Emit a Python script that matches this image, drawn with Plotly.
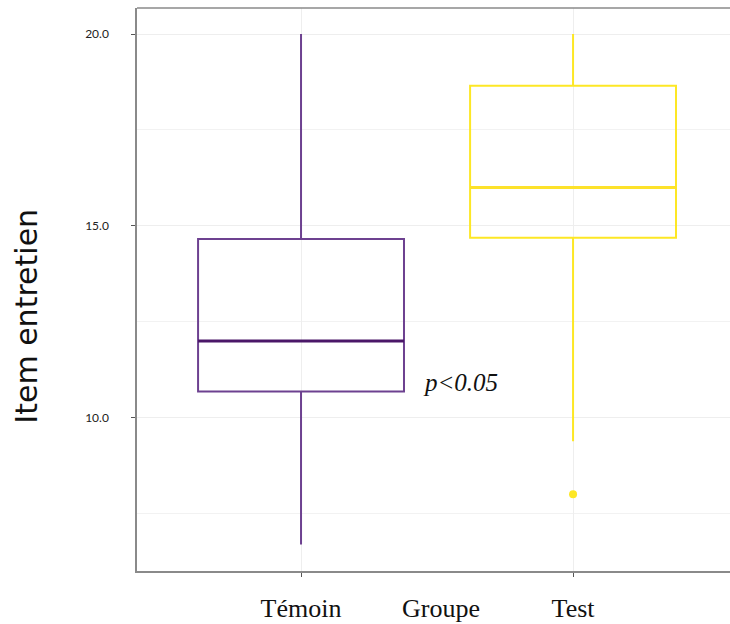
import plotly.graph_objects as go

groups = ["Témoin", "Test"]
q1 = [10.68, 14.69]
medians = [12.0, 16.0]
q3 = [14.66, 18.65]
lower_whisker = [6.69, 9.38]
upper_whisker = [20.0, 20.0]
outlier_group = ["Test"]
outlier_values = [8.0]
line_colors = ["#6d4190", "#fde725"]
median_colors = ["#4a1768", "#fde22a"]
y_ticks = [10, 15, 20]
y_tick_labels = ["10.0", "15.0", "20.0"]

box_width = 0.757

fig = go.Figure()
for i, g in enumerate(groups):
    fig.add_trace(go.Box(
        x=[g], q1=[q1[i]], median=[medians[i]], q3=[q3[i]],
        lowerfence=[lower_whisker[i]], upperfence=[upper_whisker[i]],
        width=box_width, whiskerwidth=0,
        line=dict(color=line_colors[i], width=2),
        fillcolor="rgba(0,0,0,0)", boxpoints=False, showlegend=False,
        hoverinfo="skip",
    ))
    # thicker median line (ggplot style)
    fig.add_trace(go.Scatter(
        x=[i - box_width / 2, i + box_width / 2], y=[medians[i], medians[i]],
        mode="lines", line=dict(color=median_colors[i], width=3),
        showlegend=False, hoverinfo="skip", xaxis="x2",
    ))

fig.add_trace(go.Scatter(
    x=outlier_group, y=outlier_values, mode="markers",
    marker=dict(color="#fde725", size=8), showlegend=False, hoverinfo="skip",
))

x_range = [-0.603, 1.577]

fig.update_layout(
    width=730, height=624,
    margin=dict(l=137, r=0, t=8, b=53),
    paper_bgcolor="white", plot_bgcolor="white",
    boxmode="overlay",
    xaxis=dict(
        type="category", categoryorder="array", categoryarray=groups,
        range=x_range, showgrid=True, gridcolor="#eeeeee", gridwidth=1,
        showline=True, linecolor="#8a8a8a", linewidth=1.5,
        ticks="outside", ticklen=4, tickcolor="#555555",
        tickfont=dict(family="Liberation Serif, Times New Roman, serif", size=26, color="#111111"),
        ticklabelstandoff=9, zeroline=False, automargin=False,
    ),
    xaxis2=dict(range=x_range, overlaying="x", visible=False),
    yaxis=dict(
        range=[6.0, 20.68], tickvals=y_ticks, ticktext=y_tick_labels,
        showgrid=True, gridcolor="#eeeeee", gridwidth=1,
        minor=dict(dtick=2.5, tick0=0, showgrid=True, gridcolor="#f2f2f2", gridwidth=1),
        showline=True, linecolor="#8a8a8a", linewidth=1.5,
        ticks="outside", ticklen=4, tickcolor="#555555",
        tickfont=dict(family="Lato, Open Sans, sans-serif", size=12, color="#222222"),
        ticklabelstandoff=20, zeroline=False, automargin=False,
    ),
    shapes=[dict(type="line", xref="paper", yref="paper", x0=0, x1=1, y0=1, y1=1,
                 line=dict(color="#8a8a8a", width=1.5))],
    annotations=[
        dict(text="Item entretien", xref="paper", yref="paper", x=-0.186, y=0.453,
             textangle=-90, xanchor="center", yanchor="middle", showarrow=False,
             font=dict(family="DejaVu Sans, sans-serif", size=30, color="#111111")),
        dict(text="Groupe", xref="x", yref="paper", x=0.515, y=-0.066,
             yanchor="middle", xanchor="center", showarrow=False,
             font=dict(family="Liberation Serif, Times New Roman, serif", size=26, color="#111111")),
        dict(text="<i>p<0.05</i>", xref="x", yref="y", x=0.585, y=10.91,
             xanchor="center", yanchor="middle", showarrow=False,
             font=dict(family="Liberation Serif, Times New Roman, serif", size=25, color="#111111")),
    ],
)

fig.write_html(
    "out.html",
    config={"displayModeBar": False},
    post_script="document.body.style.margin='0';document.body.style.overflow='hidden';",
)
